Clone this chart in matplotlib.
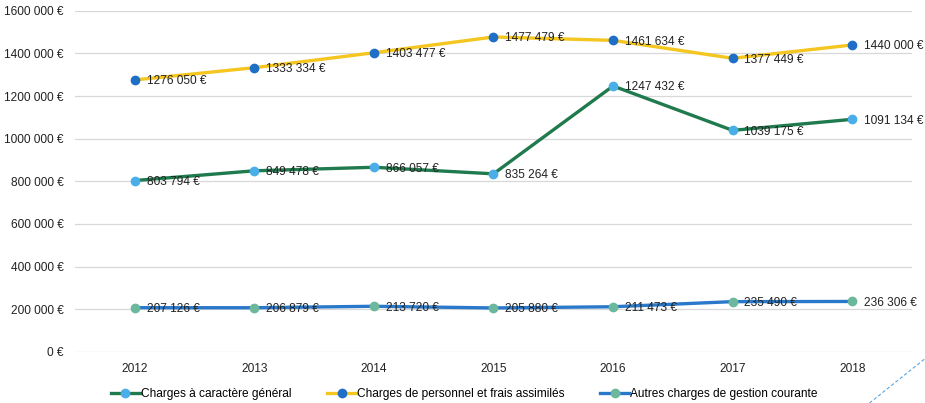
import matplotlib
matplotlib.use('Agg')
import matplotlib.pyplot as plt
from matplotlib.lines import Line2D

years = ['2012', '2013', '2014', '2015', '2016', '2017', '2018']
generales = [803794, 849478, 866057, 835264, 1247432, 1039175, 1091134]
personnel = [1276050, 1333334, 1403477, 1477479, 1461634, 1377449, 1440000]
autres = [207126, 206879, 213720, 205880, 211473, 235490, 236306]

names = ['Charges à caractère général',
         'Charges de personnel et frais assimilés',
         'Autres charges de gestion courante']


def euro(v):
    # format like the source: "1276 050 €", "803 794 €"
    s = f'{int(v):d}'
    if len(s) > 3:
        s = s[:-3] + ' ' + s[-3:]
    return s + ' €'


plt.rcParams['font.family'] = ['Liberation Sans', 'DejaVu Sans']
fig = plt.figure(figsize=(9.25, 4.03), dpi=100)
ax = fig.add_axes([0.081, 0.127, 0.905, 0.846])

fs = 8.6
x = list(range(len(years)))
series = [
    (generales, '#1f7a4d', '#4aaee8'),
    (personnel, '#f4c61f', '#1f6fc6'),
    (autres, '#2a78c9', '#6cb89c'),
]
for vals, lc, mc in series:
    ax.plot(x, vals, color=lc, lw=2.4, marker='o', ms=6,
            mfc=mc, mec=mc, zorder=3)
    for xi, v in zip(x, vals):
        ax.annotate(euro(v), (xi, v), xytext=(8.5, -1), textcoords='offset points',
                    ha='left', va='center', fontsize=fs, color='#222222',
                    zorder=4)

ax.set_xlim(-0.5, len(years) - 0.5)
ax.set_ylim(0, 1600000)
ax.set_yticks(range(0, 1600001, 200000))
ax.set_yticklabels([euro(v) for v in range(0, 1600001, 200000)])
ax.set_xticks(x)
ax.set_xticklabels(years)
ax.tick_params(axis='both', length=0, labelsize=fs, colors='#222222')
ax.tick_params(axis='x', pad=8)
ax.tick_params(axis='y', pad=8)
ax.grid(axis='y', color='#d8d8d8', lw=0.9)
ax.set_axisbelow(True)
for s in ax.spines.values():
    s.set_visible(False)

handles = [Line2D([0], [0], color=lc, lw=2.4, marker='o', ms=6, mfc=mc, mec=mc)
           for _, lc, mc in series]
fig.legend(handles, names, loc='lower center', bbox_to_anchor=(0.502, -0.02),
           ncol=3, frameon=False, fontsize=fs, handlelength=2.4,
           handletextpad=0.1, columnspacing=3.0)

# scan artefact line in the bottom-right corner
fig.add_artist(Line2D([0.94, 1.0], [0.0, 0.11], transform=fig.transFigure,
                      color='#5aa6e0', lw=0.8, ls=(0, (3, 2))))

fig.savefig('out.png', dpi=100)
